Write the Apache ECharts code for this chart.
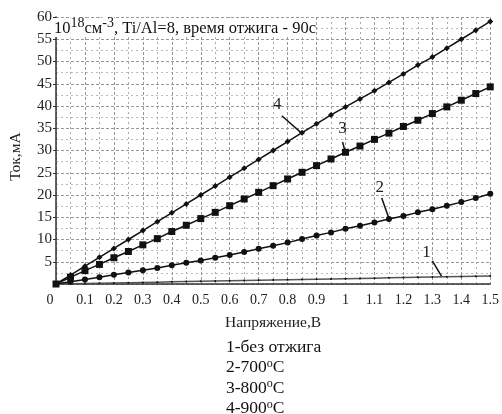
<!DOCTYPE html>
<html>
<head>
<meta charset="utf-8">
<script src="https://cdn.jsdelivr.net/npm/echarts@6/dist/echarts.min.js"></script>
<style>html,body{margin:0;padding:0;background:#fff;}#c{width:502px;height:414px;}</style>
</head>
<body>
<div id="c"></div>
<script>
var voltage = [0,0.05,0.1,0.15,0.2,0.25,0.3,0.35,0.4,0.45,0.5,0.55,0.6,0.65,0.7,0.75,0.8,0.85,0.9,0.95,1.0,1.05,1.1,1.15,1.2,1.25,1.3,1.35,1.4,1.45,1.5];
var s1 = [0,0.06,0.12,0.18,0.24,0.3,0.36,0.42,0.48,0.54,0.6,0.66,0.72,0.78,0.84,0.9,0.96,1.02,1.08,1.14,1.2,1.26,1.32,1.38,1.44,1.5,1.56,1.62,1.68,1.74,1.8];
var s2 = [0,0.5,1.0,1.5,2.1,2.6,3.1,3.6,4.2,4.8,5.3,5.9,6.5,7.2,7.9,8.6,9.3,10.1,10.9,11.6,12.4,13.1,13.8,14.6,15.3,16.1,16.8,17.6,18.4,19.3,20.3];
var s3 = [0,1.5,3.0,4.4,5.9,7.3,8.8,10.2,11.8,13.2,14.7,16.1,17.6,19.1,20.6,22.1,23.6,25.1,26.6,28.1,29.6,31.0,32.5,33.9,35.4,36.8,38.3,39.8,41.3,42.8,44.3];
var s4 = [0,2,4,6,8,10,12,14,16,18,20,22,24,26,28,30,32,34,36,38,39.8,41.6,43.4,45.3,47.2,49.2,51.0,53.0,55.0,57.0,59.0];
var curveNames = ['1','2','3','4'];
// leader lines: [labelPos, lineStart, lineEnd] in data units
var leader1 = [[1.28,7.0],[1.30,5.2],[1.333,1.6]];
var leader2 = [[1.118,21.6],[1.125,19.3],[1.15,14.8]];
var leader3 = [[0.99,35.0],[0.99,31.9],[1.0,29.4]];
var leader4 = [[0.764,40.3],[0.78,37.8],[0.848,33.9]];
var legendLines = ['1-без отжига','2-700','3-800','4-900'];

function pairs(ys){ return voltage.map(function(v,i){return [v, ys[i]];}); }
var serif = '"Liberation Serif","DejaVu Serif",serif';

function mkSeries(name, ys, symbol, size, leader, lineColor){
  return {
    name: name, type: 'line', data: pairs(ys), symbol: symbol, symbolSize: size,
    lineStyle: {color: lineColor, width: 1.5},
    itemStyle: {color: '#111'},
    z: 5,
    markLine: {
      silent: true, symbol: ['none','none'],
      lineStyle: {color: '#111', width: 1.5, type: 'solid'},
      label: {show: false},
      data: [[{coord: leader[1]}, {coord: leader[2]}]]
    },
    markPoint: {
      silent: true, symbol: 'circle', symbolSize: 0,
      label: {show: true, position: 'inside', formatter: name, color: '#222', fontSize: 17, fontFamily: serif},
      data: [{coord: leader[0]}]
    }
  };
}

var chart = echarts.init(document.getElementById('c'));
chart.setOption({
  animation: false,
  backgroundColor: '#fff',
  title: [{
    left: 54, top: 16,
    text: '{n|10}{s|18}{n|см}{s|-3}{n|, Ti/Al=8, время отжига - 90с}',
    textStyle: {fontWeight: 'normal', rich: {
      n: {fontSize: 16.5, fontFamily: serif, fontWeight: 'normal', color: '#111', backgroundColor: '#fff', padding:[2,0,0,0]},
      s: {fontSize: 14, fontFamily: serif, fontWeight: 'normal', color: '#111', backgroundColor: '#fff', padding:[0,0,9,0]}
    }},
    padding: 0
  },{
    left: 226, top: 337,
    text: '{n|' + legendLines[0] + '}\n{n|' + legendLines[1] + '}{s|o}{n|C}\n{n|' + legendLines[2] + '}{s|o}{n|C}\n{n|' + legendLines[3] + '}{s|o}{n|C}',
    textStyle: {fontWeight: 'normal', lineHeight: 20.5, rich: {
      n: {fontSize: 17.5, fontFamily: serif, fontWeight: 'normal', color: '#111', lineHeight: 20.5},
      s: {fontSize: 12, fontFamily: serif, fontWeight: 'normal', color: '#111', padding:[0,0,8,0], lineHeight: 20.5}
    }},
    padding: 0
  }],
  grid: {left: 51, right: 5, top: 17, bottom: 130, containLabel: false},
  xAxis: {
    type: 'value', min: 0, max: 1.5, interval: 0.1,
    name: 'Напряжение,В', nameLocation: 'middle', nameGap: 31,
    nameTextStyle: {fontSize: 15.5, fontFamily: serif, color: '#222'},
    axisLine: {show: true, lineStyle: {color: '#333', width: 1.5}},
    axisTick: {show: false},
    axisLabel: {
      fontSize: 14, fontFamily: serif, color: '#222', margin: 9,
      formatter: function(v){ if (v === 0) return '{z|0}'; return String(Math.round(v*10)/10); },
      rich: {z: {fontSize: 14, fontFamily: serif, color: '#222', padding:[0,12,10,0]}}
    },
    splitLine: {show: true, lineStyle: {color: '#999', type: [3,2], width: 1}},
    minorTick: {show: false, splitNumber: 2},
    minorSplitLine: {show: true, lineStyle: {color: '#aaa', type: [2,3], width: 1}}
  },
  yAxis: {
    type: 'value', min: 0, max: 60, interval: 5,
    name: 'Ток,мА', nameLocation: 'middle', nameGap: 32, nameRotate: 90,
    nameTextStyle: {fontSize: 15.5, fontFamily: serif, color: '#222', padding:[0,0,0,-12]},
    axisLine: {show: true, lineStyle: {color: '#333', width: 1.5}},
    axisTick: {show: true, length: 3, lineStyle: {color: '#333'}},
    axisLabel: {
      fontSize: 15, fontFamily: serif, color: '#222', margin: 4,
      formatter: function(v){ return v === 0 ? '' : String(v); }
    },
    splitLine: {show: true, lineStyle: {color: '#999', type: [3,2], width: 1}},
    minorTick: {show: false, splitNumber: 2},
    minorSplitLine: {show: true, lineStyle: {color: '#bbb', type: [2,3], width: 1}}
  },
  series: [
    mkSeries(curveNames[0], s1, 'circle', 2, leader1, '#555'),
    mkSeries(curveNames[1], s2, 'circle', 6, leader2, '#111'),
    mkSeries(curveNames[2], s3, 'rect', 7, leader3, '#111'),
    mkSeries(curveNames[3], s4, 'diamond', 6, leader4, '#111')
  ]
});
</script>
</body>
</html>
